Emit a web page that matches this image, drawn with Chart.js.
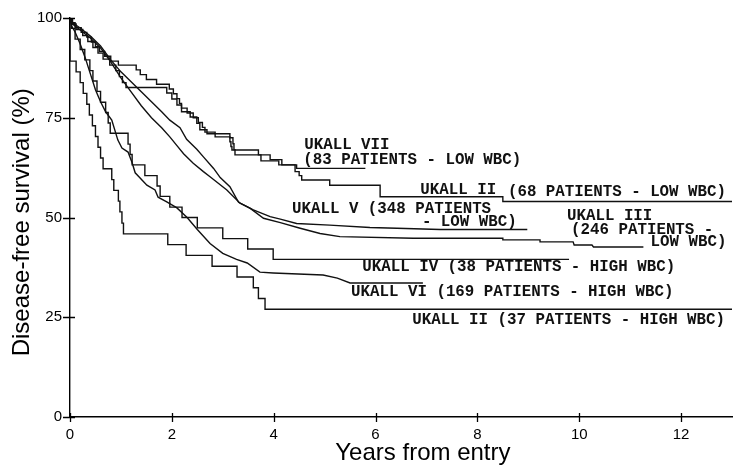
<!DOCTYPE html>
<html><head><meta charset="utf-8">
<script src="https://cdn.jsdelivr.net/npm/chart.js@4/dist/chart.umd.min.js"></script>
<style>html,body{margin:0;padding:0;background:#fff}#wrap{width:733px;height:473px;position:relative}</style>
</head><body><div id="wrap"><canvas id="c"></canvas></div>
<script>
// ---- tick labels ----
const xTicks = [0, 2, 4, 6, 8, 10, 12];
const yTicks = [0, 25, 50, 75, 100];

// ---- series: [years, % disease-free] ----
const ukall7 = [[0,100],[0.02,98.8],[0.1,97.6],[0.22,96.4],[0.33,95.2],[0.42,94],[0.5,92.8],[0.58,91.6],[0.68,90.4],[0.8,89.2],[0.95,88.2],[1.3,87],[1.38,85.8],[1.5,84.6],[1.7,83.4],[1.95,82.2],[2.03,81],[2.1,79.8],[2.15,78.6],[2.19,77.4],[2.3,76.2],[2.42,75],[2.52,73.8],[2.6,72.6],[2.65,71.4],[2.85,70.2],[3.14,69],[3.16,67.8],[3.18,66.9],[3.7,65.7],[3.75,64.2],[4.1,63.2],[4.45,62.3],[5.8,62.3]];
const ukall2Low = [[0,100],[0.05,98.5],[0.12,97.1],[0.25,95.6],[0.35,94.1],[0.45,92.6],[0.55,91.2],[0.65,89.7],[0.78,88.2],[0.9,86.8],[0.97,85.3],[1.03,83.8],[1.1,82.6],[1.9,81.2],[2.0,79.7],[2.1,78.2],[2.19,76.5],[2.36,75.2],[2.49,73.6],[2.55,72],[2.69,71],[3.14,70],[3.2,68.5],[3.22,67],[3.24,65.7],[3.93,64.5],[4.16,63.2],[4.42,61.5],[4.5,60.5],[4.55,59.4],[5.1,58.1],[6.09,55.2],[8.5,54],[13,54]];
const ukall5 = [[0,100],[0.05,98.5],[0.2,97],[0.4,95],[0.6,92.5],[0.8,89],[1.0,85],[1.2,81.5],[1.4,78],[1.6,75],[1.8,72.5],[1.96,70.2],[2.1,68],[2.23,66],[2.42,63.6],[2.62,61.5],[2.75,60.2],[3.08,56.9],[3.34,53.6],[3.6,51.9],[3.93,50.2],[4.13,49.6],[4.45,48.5],[5.1,48.1],[5.89,47.5],[6.42,47.3],[7.27,47],[8.98,47]];
const ukall3 = [[0,100],[0.05,98.8],[0.2,97.5],[0.4,95.5],[0.6,93],[0.8,89.5],[1.0,86.5],[1.2,84],[1.4,81.5],[1.6,79],[1.8,76.5],[1.96,74.4],[2.16,72.5],[2.29,69.6],[2.49,67.1],[2.62,65.2],[2.82,62.3],[2.95,60],[3.14,57.7],[3.31,53.8],[3.54,52.3],[3.8,49.8],[4.13,48.7],[4.52,47.3],[4.91,46],[5.3,45.2],[6.74,44.8],[8.5,44.8],[8.5,44.4],[9.23,44.4],[9.23,43.9],[9.88,43.9],[9.9,43.1],[10.25,43.1],[10.28,42.6],[11.26,42.6]];
const ukall4 = [[0,100],[0.03,97.4],[0.1,94.7],[0.2,92.1],[0.29,89.5],[0.39,86.8],[0.45,84.2],[0.53,81.6],[0.6,78.9],[0.7,76.3],[0.75,73.7],[0.79,71.1],[1.14,68.4],[1.18,65.8],[1.22,63.2],[1.47,60.5],[1.71,57.9],[1.77,55.3],[1.96,52.6],[2.2,50],[2.5,47.4],[3.0,44.7],[3.49,42.1],[3.99,39.5],[9.8,39.5]];
const ukall6 = [[0,100],[0.03,98],[0.1,96.5],[0.2,93.5],[0.3,90],[0.4,86],[0.5,82],[0.6,79],[0.7,76.5],[0.82,74.4],[0.94,69.4],[1.02,67.4],[1.14,66.4],[1.22,63.7],[1.28,61.2],[1.51,58.1],[1.67,56.9],[1.73,55.1],[1.9,53.9],[2.1,52.4],[2.3,50],[2.5,47],[2.75,43.5],[3.0,41],[3.27,39.5],[3.48,38.6],[3.73,36.3],[3.99,36.1],[4.97,35.6],[5.25,34.8],[5.5,33.6],[6.93,33.6]];
const ukall2High = [[0,100],[0,89.2],[0.12,86.5],[0.2,83.8],[0.26,81.1],[0.33,78.4],[0.38,75.7],[0.44,73],[0.5,70.3],[0.55,67.6],[0.6,64.9],[0.65,62.2],[0.82,59.5],[0.86,56.8],[0.95,54.1],[0.98,51.4],[1.02,48.6],[1.05,45.9],[1.92,43.2],[2.28,40.5],[2.79,37.8],[3.28,35.1],[3.6,32.4],[3.7,29.7],[3.83,27],[13,27]];

// ---- curve annotations (text, anchor in data units) ----
const curveLabels = [
  {text:'UKALL VII', t:4.6, s:68.2},
  {text:'(83 PATIENTS - LOW WBC)', t:4.58, s:64.4},
  {text:'UKALL II', t:6.88, s:56.8},
  {text:'(68 PATIENTS - LOW WBC)', t:8.6, s:56.3},
  {text:'UKALL V (348 PATIENTS', t:4.36, s:52.1},
  {text:'- LOW WBC)', t:6.91, s:48.9},
  {text:'UKALL III', t:9.76, s:50.3},
  {text:'(246 PATIENTS -', t:9.84, s:46.9},
  {text:'LOW WBC)', t:11.4, s:43.9},
  {text:'UKALL IV (38 PATIENTS - HIGH WBC)', t:5.74, s:37.7},
  {text:'UKALL VI (169 PATIENTS - HIGH WBC)', t:5.52, s:31.3},
  {text:'UKALL II (37 PATIENTS - HIGH WBC)', t:6.72, s:24.2}
];
const xTitle = 'Years from entry';
const yTitle = 'Disease-free survival (%)';

const toXY = a => a.map(p => ({x:p[0], y:p[1]}));
function ds(label, arr, stepped){
  return {label, data: toXY(arr), stepped: stepped ? 'before' : false, borderColor:'#111', borderWidth:1.4,
    pointRadius:0, pointHoverRadius:0, fill:false, tension:0};
}

const annot = {
  id:'annot',
  afterDraw(chart){
    const {ctx, scales:{x, y}} = chart;
    ctx.save();
    ctx.strokeStyle = '#000'; ctx.lineWidth = 1.3;
    ctx.beginPath();
    for (const v of xTicks){ const px = Math.round(x.getPixelForValue(v)) + 0.5; ctx.moveTo(px, y.bottom - 4); ctx.lineTo(px, y.bottom + 5); }
    for (const v of yTicks){ const py = Math.round(y.getPixelForValue(v)) + 0.5; ctx.moveTo(x.left - 7, py); ctx.lineTo(x.left + 5, py); }
    ctx.stroke();
    ctx.fillStyle = '#111';
    ctx.font = 'bold 15.8px "Liberation Mono"';
    ctx.textBaseline = 'middle'; ctx.textAlign = 'left';
    for (const l of curveLabels) ctx.fillText(l.text, x.getPixelForValue(l.t), y.getPixelForValue(l.s));
    // axis titles
    ctx.fillStyle = '#000';
    ctx.font = '24px "Liberation Sans"';
    ctx.textAlign = 'center'; ctx.textBaseline = 'alphabetic';
    ctx.fillText(xTitle, x.getPixelForValue(6.93), 460);
    ctx.translate(29, y.getPixelForValue(48.8));
    ctx.rotate(-Math.PI/2);
    ctx.fillText(yTitle, 0, 0);
    ctx.restore();
  }
};

new Chart(document.getElementById('c'), {
  type:'line',
  data:{ datasets:[
    ds('UKALL VII (83 patients - low WBC)', ukall7, true),
    ds('UKALL II (68 patients - low WBC)', ukall2Low, true),
    ds('UKALL V (348 patients - low WBC)', ukall5, false),
    ds('UKALL III (246 patients - low WBC)', ukall3, false),
    ds('UKALL IV (38 patients - high WBC)', ukall4, true),
    ds('UKALL VI (169 patients - high WBC)', ukall6, false),
    ds('UKALL II (37 patients - high WBC)', ukall2High, true)
  ]},
  options:{
    responsive:true, maintainAspectRatio:false, animation:false,
    layout:{padding:{top:18, right:1, left:0, bottom:0}},
    plugins:{legend:{display:false}, tooltip:{enabled:false}},
    scales:{
      x:{type:'linear', min:0, max:13,
        afterBuildTicks: s => { s.ticks = xTicks.map(v => ({value:v})); },
        afterFit: s => { s.height = 56; },
        grid:{display:false, drawTicks:false},
        border:{display:true, color:'#000', width:1.4},
        ticks:{padding:9, color:'#000', font:{family:'Liberation Sans', size:15}, maxRotation:0, autoSkip:false}
      },
      y:{type:'linear', min:0, max:100,
        afterBuildTicks: s => { s.ticks = yTicks.map(v => ({value:v})); },
        afterFit: s => { s.width = 70; },
        grid:{display:false, drawTicks:false},
        border:{display:true, color:'#000', width:1.4},
        ticks:{padding:8, color:'#000', font:{family:'Liberation Sans', size:15}}
      }
    }
  },
  plugins:[annot]
});
</script></body></html>
